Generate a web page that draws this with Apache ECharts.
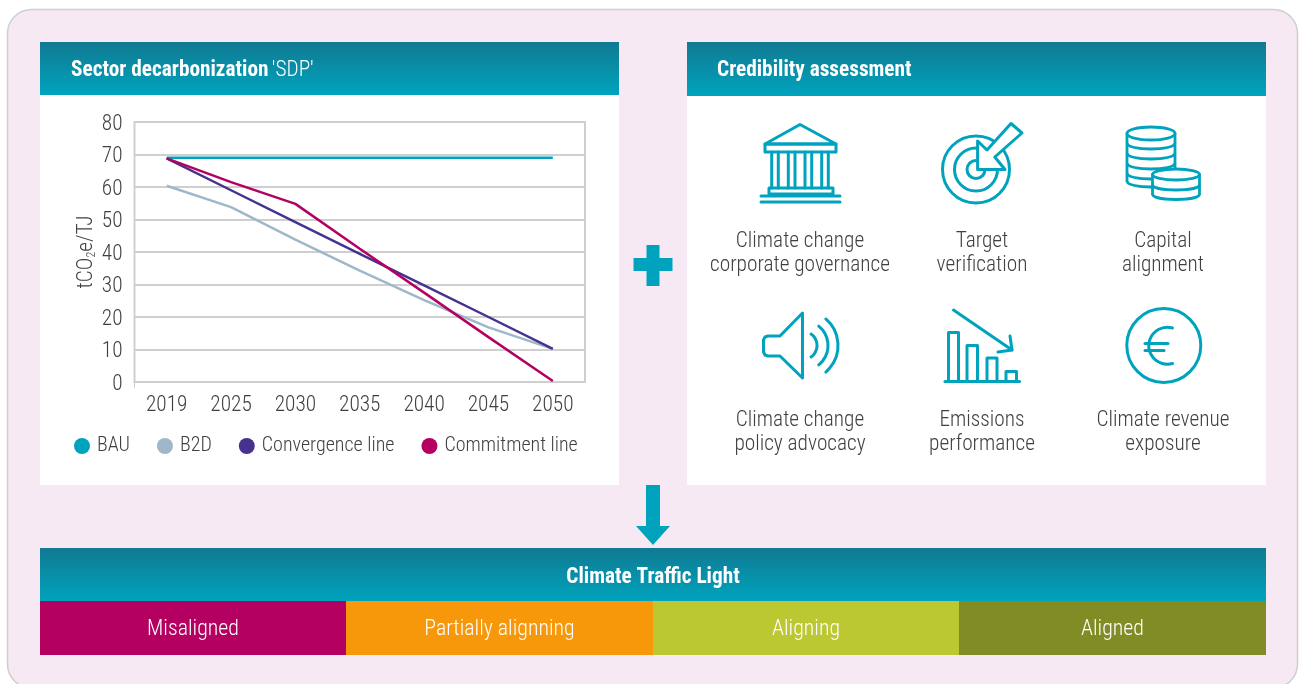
<!DOCTYPE html>
<html><head><meta charset="utf-8">
<style>html,body{margin:0;padding:0;background:#fff}#c{width:1299px;height:684px}</style>
<script src="https://cdn.jsdelivr.net/npm/echarts@6/dist/echarts.min.js"></script>
</head><body><div id="c"></div>
<script>
const categories = ['2019','2025','2030','2035','2040','2045','2050'];
const bau = [69,69,69,69,69,69,69];
const b2d = [60.4,53.8,43.8,34.3,25.2,16.8,10.2];
const convergence = [68.8,59,49.2,39.4,29.7,20,10.2];
const commitment = [68.8,61.5,54.8,41,27.5,13.8,0.3];
const yTicks = {min:0,max:80,interval:10};
const creditLabels = [
  ['Climate change','corporate governance',800,240],
  ['Target','verification',982,240],
  ['Capital','alignment',1163,240],
  ['Climate change','policy advocacy',800,419],
  ['Emissions','performance',982,419],
  ['Climate revenue','exposure',1163,419]
];
const lights = [['Misaligned','#b40061',40,306],['Partially alignning','#f7970a',346,307],['Aligning','#bcc832',653,306],['Aligned','#818c24',959,307]];

const FONT = "'Roboto Condensed','Liberation Sans Narrow','Roboto',sans-serif";
const TEAL = '#00a3bd', TXT = '#404040', FS = 21.3, GRID = '#cfcfcf';
const grad = {type:'linear',x:0,y:0,x2:0,y2:1,colorStops:[{offset:0,color:'#107a92'},{offset:1,color:'#00a3bd'}]};
const g = [];
const rect = (x,y,w,h,fill,z=-10,r) => g.push({type:'rect',z,shape:{x,y,width:w,height:h,r:r||0},style:{fill}});
const text = (t,x,y,o={}) => g.push({type:'text',z:5,x,y:y+2,style:Object.assign({text:t,fill:TXT,font:'300 '+FS+'px '+FONT,textAlign:'center',textVerticalAlign:'middle'},o)});
const st = (fill='none',lw=3)=>({fill,stroke:TEAL,lineWidth:lw,lineJoin:'round',lineCap:'round'});
const pl = (pts,lw)=>g.push({type:'polyline',z:4,shape:{points:pts},style:st('none',lw)});
const pg = (pts,fill='none')=>g.push({type:'polygon',z:4,shape:{points:pts},style:st(fill)});
const arc = (cx,cy,r,a,b,cw=true,lw=3)=>g.push({type:'arc',z:4,shape:{cx,cy,r,startAngle:a,endAngle:b,clockwise:cw},style:{fill:'none',stroke:TEAL,lineWidth:lw,lineCap:'round'}});
const circ = (cx,cy,r,fill='none')=>g.push({type:'circle',z:4,shape:{cx,cy,r},style:st(fill)});
const ell = (cx,cy,rx,ry,fill='#fff')=>g.push({type:'ellipse',z:4,shape:{cx,cy,rx,ry},style:st(fill,2.8)});
const band = (cx,cy,rx,ry)=>g.push({type:'bezierCurve',z:4,shape:{x1:cx-rx,y1:cy,x2:cx+rx,y2:cy,cpx1:cx-rx,cpy1:cy+ry*4/3,cpx2:cx+rx,cpy2:cy+ry*4/3},style:{fill:'none',stroke:TEAL,lineWidth:2.8}});

g.push({type:'rect',z:-20,shape:{x:7.5,y:9.5,width:1290,height:678.5,r:24},style:{fill:'#f7e9f3',stroke:'#cfcfcf',lineWidth:1.5}});
rect(40,95,579,390,'#fff'); rect(687,96,579,389,'#fff');
rect(40,42,579,53,grad); rect(687,42,579,54,grad); rect(40,548,1226,53,grad);
lights.forEach(l=>{rect(l[2],601,l[3],54,l[1]); text(l[0],l[2]+l[3]/2,628,{fill:'#fff',font:'300 21.8px '+FONT});});
text('Climate Traffic Light',653,576,{fill:'#fff',font:'700 '+FS+'px '+FONT});
text('Credibility assessment',717,69,{fill:'#fff',font:'700 '+FS+'px '+FONT,textAlign:'left'});
g.push({type:'text',z:5,x:71,y:71,style:{text:"{b|Sector decarbonization} {l|'SDP'}",textAlign:'left',textVerticalAlign:'middle',rich:{b:{fill:'#fff',font:'700 '+FS+'px '+FONT},l:{fill:'#fff',font:'300 '+FS+'px '+FONT}}}});
creditLabels.forEach(c=>{text(c[0],c[2],c[3]);text(c[1],c[2],c[3]+24);});
// plus and arrow
g.push({type:'polygon',z:4,shape:{points:[[646.5,245],[659.5,245],[659.5,258],[672.5,258],[672.5,271],[659.5,271],[659.5,286],[646.5,286],[646.5,271],[633.5,271],[633.5,258],[646.5,258]]},style:{fill:TEAL}});
g.push({type:'polygon',z:4,shape:{points:[[646,485],[660,485],[660,526],[670,526],[653,545],[636,526],[646,526]]},style:{fill:TEAL}});
// axis start tick
g.push({type:'line',z:1,shape:{x1:134.5,y1:382,x2:134.5,y2:388},style:{stroke:GRID,lineWidth:1}});
// bank
pg([[800,124.5],[765,144],[836,144]]);
pg([[765,144],[836,144],[836,152],[765,152]]);
[771.7,778.3,788.3,795,805,811.7,821.7,828.3].forEach(x=>pl([[x,152],[x,188]]));
pg([[769,188],[833,188],[833,194],[769,194]]);
pl([[761,196],[840,196]]); pl([[761,202],[840,202]]);
// target
circ(976,169.5,33.5,'#fff'); circ(976,169.5,21.5,'#fff'); circ(976,169.5,9,'#fff');
pg([[977.6,141],[977.6,169.5],[1005,169.5],[994.8,157],[1022,133],[1011,123.5],[987,150]],'#fff');
// coins
pl([[1127,133.5],[1127,181]],2.8); pl([[1175,133.5],[1175,181]],2.8);
[143,153,163,173,181].forEach(y=>band(1151,y,24,6));
ell(1151,133.5,24,6.5);
g.push({type:'rect',z:4,shape:{x:1152.5,y:174.5,width:47,height:20},style:{fill:'#fff'}});
g.push({type:'ellipse',z:4,shape:{cx:1176,cy:194,rx:23.5,ry:5.5},style:{fill:'#fff'}});
pl([[1152.5,174.5],[1152.5,194]],2.8); pl([[1199.5,174.5],[1199.5,194]],2.8);
band(1176,184.5,23.5,5.5); band(1176,194,23.5,5.5);
ell(1176,174.5,23.5,5.5);
// speaker
pg([[802.5,313],[780,336],[768,336],[765,337],[763.5,340],[763.5,352],[765,355],[768,356],[780,356],[802.5,378]]);
arc(803,345.5,14,-0.96,0.96); arc(803,345.5,25,-0.89,0.89); arc(803,345.5,35,-0.86,0.86);
// emissions
pl([[953.5,310],[1012,350]]); pl([[1010,336],[1012,350],[998,352]]);
pl([[948.5,381],[948.5,332.5],[958.5,332.5],[958.5,381]]);
pl([[967,381],[967,345.5],[977.5,345.5],[977.5,381]]);
pl([[987,381],[987,358],[997,358],[997,381]]);
pl([[1006,381],[1006,371.5],[1016.5,371.5],[1016.5,381]]);
pl([[945,381.5],[1019.5,381.5]]);
// euro
arc(1167.3,345.7,18.5,-1.286,1.286,false);
pl([[1145,343.5],[1168,343.5]]); pl([[1145,350.5],[1164,350.5]]);
circ(1163.8,345.5,37);

const line = (name,data,color,w=2.5)=>({name,type:'line',data,symbol:'none',smooth:false,lineStyle:{color,width:w},itemStyle:{color},z:3});
echarts.init(document.getElementById('c')).setOption({
  animation:false,
  textStyle:{fontFamily:FONT},
  graphic:{elements:g},
  grid:{left:134.5,right:714,top:122,bottom:302,show:true,borderColor:GRID,borderWidth:2,backgroundColor:'transparent'},
  legend:{left:74,top:436,padding:0,icon:'circle',itemWidth:16,itemHeight:16,itemGap:27,
    textStyle:{fontFamily:FONT,fontWeight:300,fontSize:20,color:TXT,padding:[2,0,0,2]},
    data:['BAU','B2D','Convergence line','Commitment line']},
  xAxis:{type:'category',data:categories,boundaryGap:true,
    axisLine:{lineStyle:{color:GRID,width:2}},
    axisTick:{alignWithLabel:true,length:6,lineStyle:{color:GRID,width:1}},
    axisLabel:{fontFamily:FONT,fontWeight:300,fontSize:FS,color:TXT,margin:13,interval:0}},
  yAxis:{type:'value',min:yTicks.min,max:yTicks.max,interval:yTicks.interval,
    name:'tCO{s|2}e/TJ',nameLocation:'middle',nameGap:37,nameRotate:90,
    nameTextStyle:{fontFamily:FONT,fontWeight:300,fontSize:FS,color:TXT,rich:{s:{fontFamily:FONT,fontWeight:300,fontSize:12,color:TXT,verticalAlign:'bottom',padding:[8,0,0,0]}}},
    axisLine:{show:false},axisTick:{show:false},
    splitLine:{lineStyle:{color:GRID,width:2}},
    axisLabel:{formatter:'{a|{value}}',margin:12,rich:{a:{fontFamily:FONT,fontWeight:300,fontSize:FS,color:TXT,padding:[5,0,0,0]}}}},
  series:[line('BAU',bau,'#00a3bd'),line('B2D',b2d,'#9fb8c9'),line('Convergence line',convergence,'#46328f'),line('Commitment line',commitment,'#b40061')]
});
</script></body></html>
